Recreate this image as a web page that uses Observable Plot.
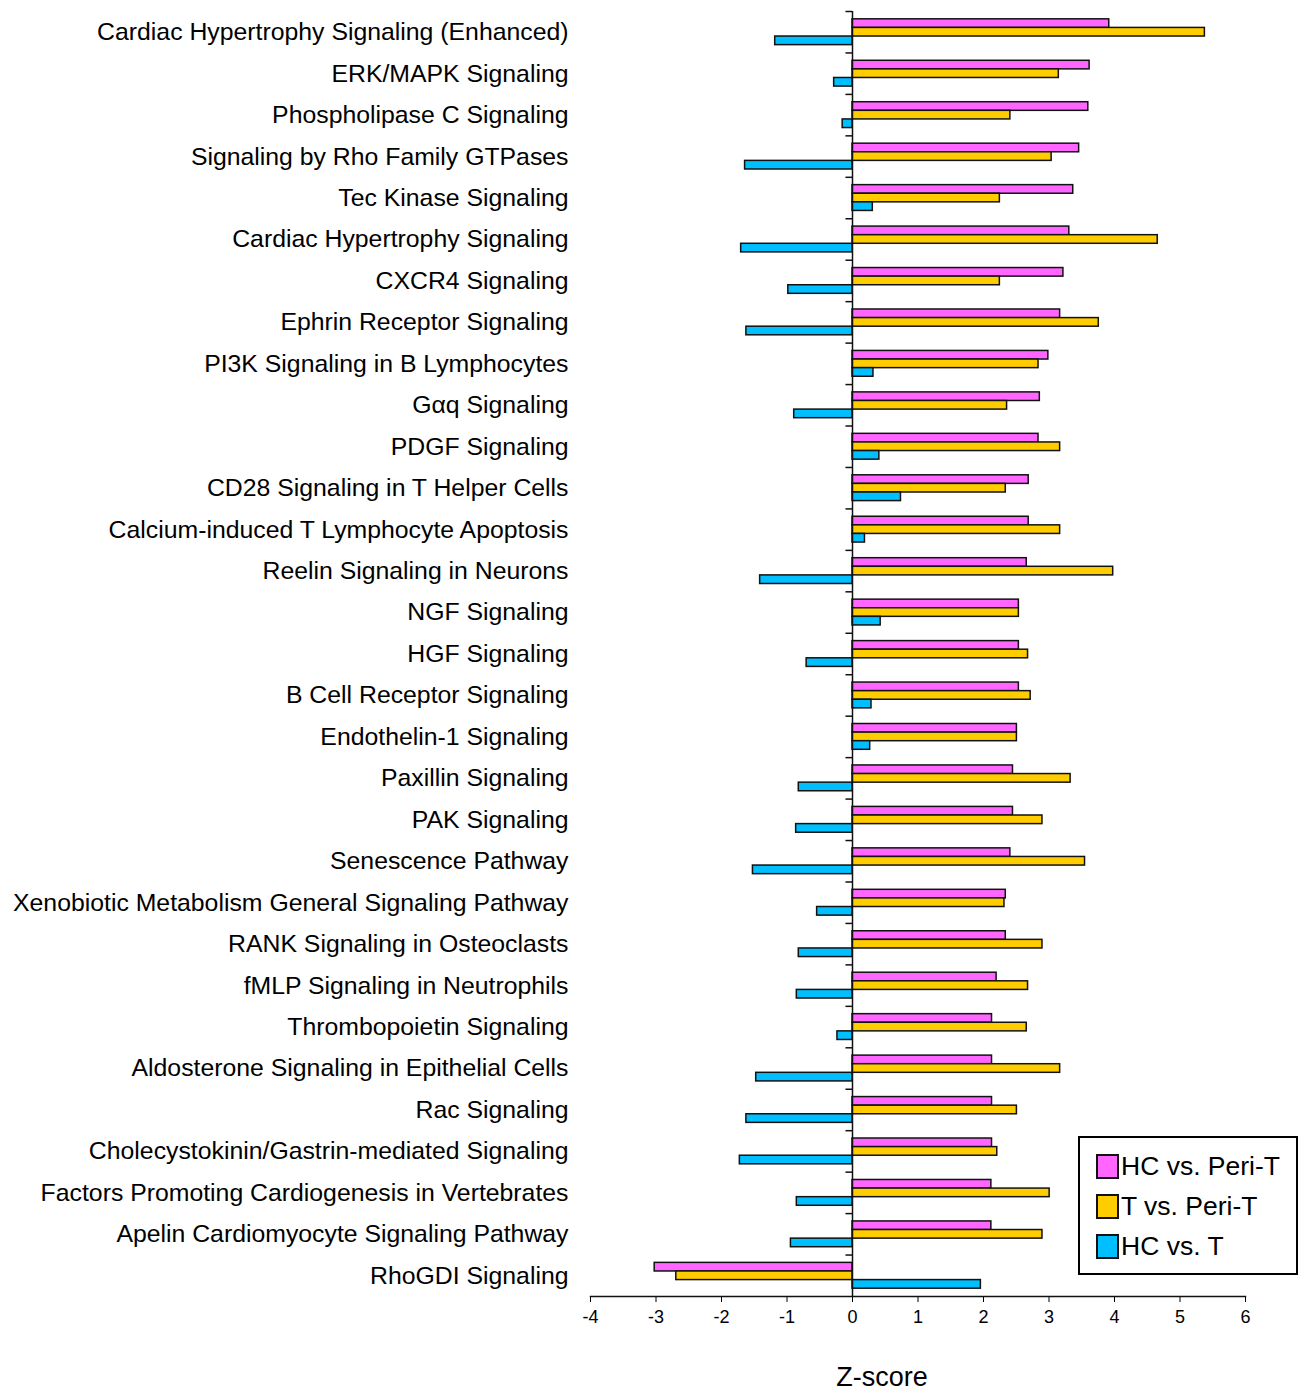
<!DOCTYPE html>
<html><head><meta charset="utf-8">
<script src="https://cdn.jsdelivr.net/npm/d3@7"></script>
<script src="https://cdn.jsdelivr.net/npm/@observablehq/plot@0.6"></script>
<style>
body{margin:0;background:#fff;font-family:"Liberation Sans",Arial,sans-serif;}
#wrap{position:relative;width:1306px;height:1396px;overflow:hidden;}
#xlabel{position:absolute;left:732px;width:300px;top:1362px;text-align:center;font-size:27px;line-height:30px;color:#000;}
#legend{position:absolute;left:1078px;top:1136px;width:220px;height:139px;box-sizing:border-box;border:2px solid #000;background:#fff;padding-top:8px;}
.item{display:flex;align-items:center;height:40px;padding-left:16px;font-size:26.5px;color:#000;white-space:nowrap;}
.sw{width:19px;height:21px;border:2px solid #111;margin-right:2px;flex:none;}
</style></head><body>
<div id="wrap"><div id="chart"></div><div id="xlabel">Z-score</div><div id="legend"></div></div>
<script>
const pathways = [
 "Cardiac Hypertrophy Signaling (Enhanced)","ERK/MAPK Signaling","Phospholipase C Signaling",
 "Signaling by Rho Family GTPases","Tec Kinase Signaling","Cardiac Hypertrophy Signaling",
 "CXCR4 Signaling","Ephrin Receptor Signaling","PI3K Signaling in B Lymphocytes","Gαq Signaling",
 "PDGF Signaling","CD28 Signaling in T Helper Cells","Calcium-induced T Lymphocyte Apoptosis",
 "Reelin Signaling in Neurons","NGF Signaling","HGF Signaling","B Cell Receptor Signaling",
 "Endothelin-1 Signaling","Paxillin Signaling","PAK Signaling","Senescence Pathway",
 "Xenobiotic Metabolism General Signaling Pathway","RANK Signaling in Osteoclasts",
 "fMLP Signaling in Neutrophils","Thrombopoietin Signaling","Aldosterone Signaling in Epithelial Cells",
 "Rac Signaling","Cholecystokinin/Gastrin-mediated Signaling","Factors Promoting Cardiogenesis in Vertebrates",
 "Apelin Cardiomyocyte Signaling Pathway","RhoGDI Signaling"
];
const hcVsPeriT = [3.92,3.62,3.60,3.46,3.37,3.31,3.22,3.17,2.99,2.86,2.84,2.69,2.69,2.66,2.54,2.54,2.54,2.51,2.45,2.45,2.41,2.34,2.34,2.20,2.13,2.13,2.13,2.13,2.12,2.12,-3.02];
const tVsPeriT  = [5.38,3.15,2.41,3.04,2.25,4.66,2.25,3.76,2.84,2.36,3.17,2.34,3.17,3.98,2.54,2.68,2.72,2.51,3.33,2.90,3.55,2.32,2.90,2.68,2.66,3.17,2.51,2.21,3.01,2.90,-2.69];
const hcVsT     = [-1.18,-0.28,-0.15,-1.64,0.31,-1.70,-0.98,-1.62,0.32,-0.89,0.41,0.74,0.19,-1.41,0.43,-0.70,0.29,0.27,-0.82,-0.86,-1.52,-0.54,-0.82,-0.85,-0.23,-1.47,-1.62,-1.72,-0.85,-0.94,1.96];
const seriesNames = ["HC vs. Peri-T","T vs. Peri-T","HC vs. T"];
const seriesColors = ["#FF66FF","#FFCC00","#00BFFF"];
const xTicks = [-4,-3,-2,-1,0,1,2,3,4,5,6];

const seriesValues = [hcVsPeriT, tVsPeriT, hcVsT];
const svgH = 1336, plotTop = 11, plotBottom = 1296;
const bw = (plotBottom - plotTop) / pathways.length;
const barH = 8.6, off = (bw - 3 * barH) / 2;
const insetFor = k => ({insetTop: off + k * barH, insetBottom: bw - off - (k + 1) * barH});

const barMarks = seriesValues.map((vals, k) =>
  Plot.barX(pathways.map((p, i) => ({pathway: p, value: vals[i]})), {
    x1: 0, x2: "value", y: "pathway", fill: seriesColors[k],
    stroke: "#111", strokeWidth: 1.5, ...insetFor(k)
  })
);

const chart = Plot.plot({
  width: 1306, height: svgH,
  marginLeft: 590, marginRight: 61, marginTop: plotTop, marginBottom: svgH - plotBottom,
  x: {domain: [-4, 6], ticks: xTicks},
  y: {domain: pathways, padding: 0, round: false},
  style: {fontFamily: "'Liberation Sans', Arial, sans-serif", color: "#000", background: "#fff"},
  marks: [
    ...barMarks,
    Plot.ruleX([0], {stroke: "#111", strokeWidth: 1.5}),
    Plot.ruleY(pathways, {y: d => d, x1: -0.1, x2: 0, dy: -bw / 2, stroke: "#111", strokeWidth: 1.5}),
    Plot.axisY({tickSize: 0, tickPadding: 22, fontSize: 24.8, label: null}),
    Plot.axisX({tickSize: 6, tickPadding: 8, fontSize: 18, label: null, ticks: xTicks, tickFormat: d => String(d)}),
    Plot.frame({anchor: "bottom", stroke: "#111", strokeWidth: 1.5})
  ]
});
document.getElementById("chart").appendChild(chart);

const legend = document.getElementById("legend");
seriesNames.forEach((n, k) => {
  const it = document.createElement("div"); it.className = "item";
  const sw = document.createElement("div"); sw.className = "sw"; sw.style.background = seriesColors[k];
  const t = document.createElement("span"); t.textContent = n;
  it.appendChild(sw); it.appendChild(t); legend.appendChild(it);
});
</script></body></html>
